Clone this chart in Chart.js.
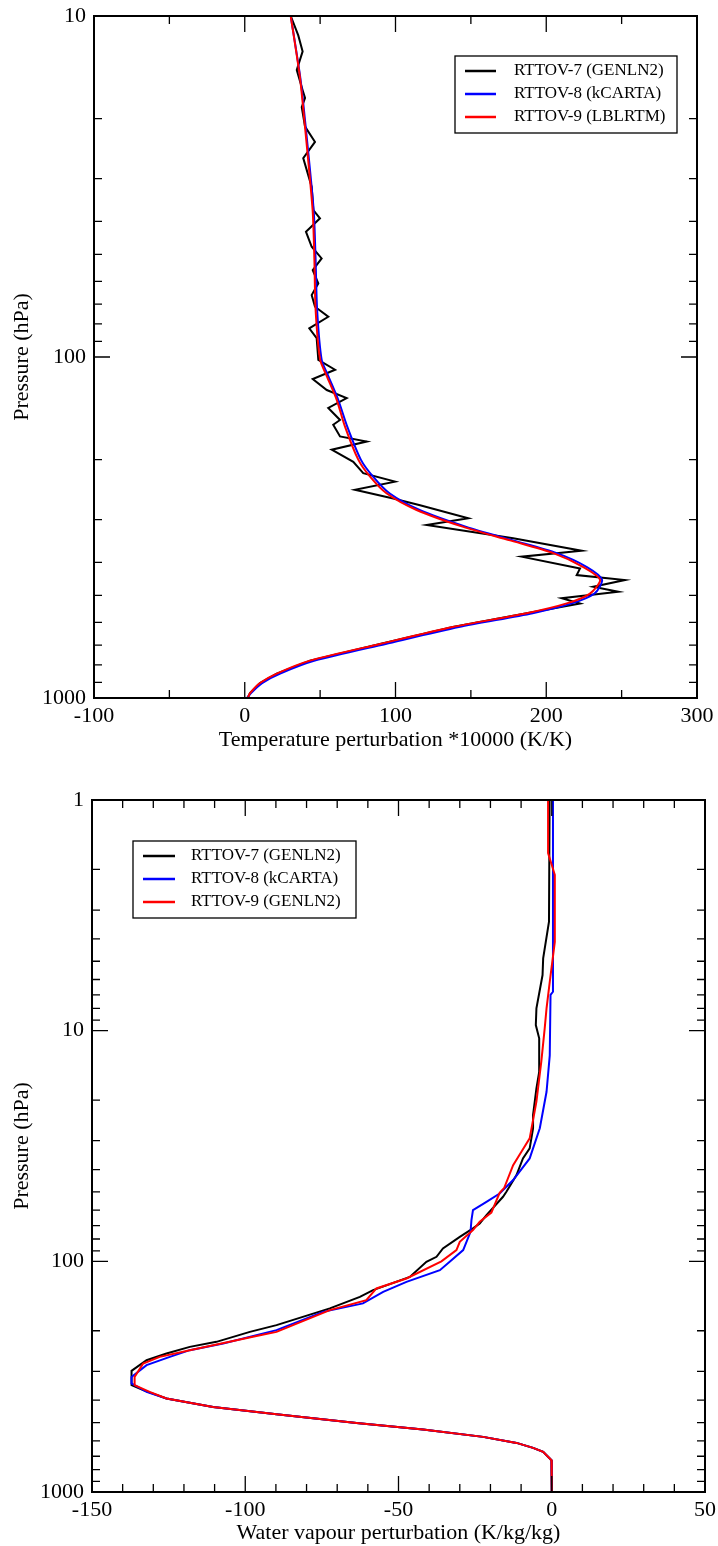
<!DOCTYPE html>
<html>
<head>
<meta charset="utf-8">
<title>RTTOV Jacobians</title>
<script src="https://cdn.jsdelivr.net/npm/chart.js@4.4.1/dist/chart.umd.min.js"></script>
<style>
    html, body { margin: 0; padding: 0; background: #fff; }
    body { width: 718px; height: 1546px; position: relative; overflow: hidden; }
    canvas { position: absolute; left: 0; }
    #temp-chart { top: 0; }
    #wv-chart { top: 760px; }
</style>
</head>
<body>
<canvas id="temp-chart" width="718" height="760"></canvas>
<canvas id="wv-chart" width="718" height="786"></canvas>
<script>
// ---- Temperature jacobian (top panel), pressure in hPa ----
const tempPressure7 = [10, 11.4, 12.7, 14.4, 16.5, 17.4, 18.5, 21.1, 23.4, 26.1, 31.7, 37.1, 39.2, 42.9, 47.5, 51.4, 55.6, 60.8, 65.8, 71.2,
    76.2, 82.4, 88.1, 102, 109, 116, 125, 132, 141, 153, 158, 171, 177, 187, 203, 219, 232, 245, 260, 272,
    297, 311, 340, 370, 385, 417, 436, 451, 472, 488, 510, 528, 564, 619, 694, 777, 848, 904, 968, 1000];
const tempRttov7 = [30.5, 35.5, 38.4, 34.5, 38.4, 40.0, 37.8, 40.0, 46.6, 38.8, 44.4, 45.5, 49.9, 40.6, 44.4, 51.0, 45.1, 48.8, 44.4, 46.6,
    55.4, 42.8, 47.7, 48.8, 59.9, 45.1, 54.4, 67.6, 55.4, 63.2, 58.7, 63.2, 80.9, 57.7, 72.0, 78.6, 99.7, 73.1, 98.5, 116.3,
    148.3, 120.7, 178.1, 223.5, 183.7, 222.4, 220.2, 252.2, 231.2, 247.8, 210.3, 222.4, 187, 138, 89.7, 43.3, 21.2, 10.1, 3.5, 2];
const tempPressure89 = [10, 15.1, 18.9, 37, 51.9, 72.7, 101.8, 114, 133.5, 160, 200, 224, 251, 281, 315, 345, 376, 413, 450, 494,
    528, 564, 619, 694, 777, 848, 904, 968, 1000];
const tempRttov8 = [30.5, 36.8, 39.3, 45.7, 47, 48, 51, 55.5, 62, 68, 77, 85, 96, 116, 147, 178, 207, 227, 237, 232,
    217, 191, 142, 93.5, 46.5, 23.5, 11.5, 4, 1.5];
const tempRttov9 = [30.5, 36.6, 38.9, 45, 46.2, 47, 50, 54.5, 61, 66.5, 75.3, 83, 94, 114, 145, 176, 204.7, 224.6, 235.7, 229,
    213.6, 187, 138, 89.7, 43.3, 21.2, 10.1, 3.5, 2];

// ---- Water vapour jacobian (bottom panel) ----
const wvPressure7 = [1, 3.37, 4.86, 5.74, 8.0, 9.46, 10.8, 15.1, 17.8, 23.2, 26.5, 32.4, 35.8, 42.3, 49.9, 52.5, 63.0, 68.5, 72.0, 78.3,
    87.9, 95.6, 100.5, 116.8, 133.3, 142.6, 160, 189.1, 202.2, 223.4, 234.9, 250.9, 268.3, 298.5, 344.3, 361.9, 393.2];
const wvRttov7 = [-0.7, -0.9, -2.8, -3.0, -5.0, -5.2, -4.1, -4.1, -5.0, -6.1, -6.1, -7.2, -9.4, -11.5, -14.8, -15.9, -21.3, -23.5, -25.7, -30.0,
    -35.5, -37.6, -40.9, -46.3, -58.3, -62.6, -72.4, -89.8, -98.5, -109.4, -118.1, -125.7, -132.2, -137.1, -137.1, -133.3, -125.7];
const wvPressure8 = [1, 6.78, 7.0, 12.8, 18.4, 26.5, 35.8, 44.4, 50.8, 55.2, 60.0, 66.3, 74.5, 89.4, 100.5, 109.2, 122.7, 135.6, 152.2, 165.6,
    198.8, 227.0, 242.7, 259.5, 281.9, 316.9, 338.5, 368.1, 393.2];
const wvRttov8 = [0.4, 0.4, -0.4, -0.65, -1.7, -3.9, -7.2, -12.6, -17.0, -21.3, -25.7, -26.2, -26.5, -28.9, -33.3, -36.5, -47.4, -55.0, -61.6, -74.6,
    -89.8, -107.2, -118.1, -124.6, -132.2, -137.1, -137.1, -132.2, -125.7];
const wvPressure9 = [1, 1.70, 2.11, 4.12, 6.14, 8.0, 9.77, 13.6, 20.3, 29.3, 33.5, 38.3, 48, 50.5, 61.5, 67.4, 73.2, 82.3, 89.4, 100,
    118.7, 131.1, 147.3, 162.8, 202.2, 212.5, 242.7, 259.5, 277.3, 316.9, 344.3, 368.1, 393.2];
const wvRttov9 = [-1.2, -1.2, 1.0, 1.0, -0.65, -1.7, -2.3, -3.4, -5.0, -7.2, -9.9, -12.6, -15.5, -17.0, -19.7, -23.5, -25.7, -30.0, -31.1, -36.0,
    -47.4, -57.2, -60.5, -72.4, -89.8, -97.5, -118.1, -127.9, -133.3, -136.1, -136.1, -131.2, -125.7];
// lower troposphere, where all three models coincide
const wvTailPressure = [427.6, 459.9, 501.7, 535.8, 576.8, 612.5, 644, 670.2, 728, 1000];
const wvTail = [-110.5, -89.8, -63.7, -42.0, -22.4, -11.5, -6.1, -2.8, -0.1, 0];

// labels and axis ticks
const tempLabels = ['RTTOV-7 (GENLN2)', 'RTTOV-8 (kCARTA)', 'RTTOV-9 (LBLRTM)'];
const wvLabels = ['RTTOV-7 (GENLN2)', 'RTTOV-8 (kCARTA)', 'RTTOV-9 (GENLN2)'];
const tempYLabels = [10, 100, 1000];
const wvYLabels = [1, 10, 100, 1000];

const FONT = '"Liberation Serif", "Times New Roman", serif';
const COLORS = ['#000000', '#0000ff', '#ff0000'];

function toPoints(pressures, values) {
    return values.map((v, i) => ({ x: v, y: pressures[i] }));
}

// 1,2,...,9 per decade between the two decades
function logTickValues(min, max) {
    const out = [];
    for (let d = min; d < max; d *= 10) {
        for (let m = 1; m < 10; m++) out.push(d * m);
    }
    out.push(max);
    return out;
}

// Frame box plus inward ticks on all four sides
const frameTicks = {
    id: 'frameTicks',
    afterDatasetsDraw(chart, args, opts) {
        const { ctx, chartArea: a } = chart;
        const xs = chart.scales.x;
        const ys = chart.scales.y;
        ctx.save();
        ctx.strokeStyle = '#000';
        ctx.lineWidth = 1.3;
        ctx.beginPath();
        for (let v = xs.min; v <= xs.max + 1e-9; v += opts.xMinorStep) {
            const px = xs.getPixelForValue(v);
            const len = Math.abs(v % opts.xMajorStep) < 1e-9 ? 16 : 8;
            ctx.moveTo(px, a.bottom); ctx.lineTo(px, a.bottom - len);
            ctx.moveTo(px, a.top); ctx.lineTo(px, a.top + len);
        }
        ys.ticks.forEach(t => {
            const py = ys.getPixelForValue(t.value);
            const len = opts.yMajor.includes(t.value) ? 16 : 8;
            ctx.moveTo(a.left, py); ctx.lineTo(a.left + len, py);
            ctx.moveTo(a.right, py); ctx.lineTo(a.right - len, py);
        });
        ctx.stroke();
        ctx.lineWidth = 2;
        ctx.strokeRect(a.left, a.top, a.right - a.left, a.bottom - a.top);
        ctx.restore();
    }
};

// Boxed legend placed inside the plot
const boxLegend = {
    id: 'boxLegend',
    afterDraw(chart, args, opts) {
        const ctx = chart.ctx;
        ctx.save();
        ctx.fillStyle = '#fff';
        ctx.fillRect(opts.x, opts.y, opts.w, opts.h);
        ctx.strokeStyle = '#000';
        ctx.lineWidth = 1.3;
        ctx.strokeRect(opts.x, opts.y, opts.w, opts.h);
        ctx.font = '17px ' + FONT;
        ctx.textBaseline = 'middle';
        chart.data.datasets.forEach((ds, i) => {
            const y = opts.y + opts.firstRow + i * opts.rowGap;
            ctx.strokeStyle = ds.borderColor;
            ctx.lineWidth = 2.5;
            ctx.beginPath();
            ctx.moveTo(opts.x + opts.lineStart, y);
            ctx.lineTo(opts.x + opts.lineEnd, y);
            ctx.stroke();
            ctx.fillStyle = '#000';
            ctx.fillText(ds.label, opts.x + opts.textX, y);
        });
        ctx.restore();
    }
};

function makeDatasets(labels, series, tension) {
    // draw order: red on top, then blue, then black
    return series.map((pts, i) => ({
        label: labels[i],
        data: pts,
        showLine: true,
        borderColor: COLORS[i],
        backgroundColor: COLORS[i],
        borderWidth: 2,
        pointRadius: 0,
        tension: i === 0 ? 0 : tension,
        order: 3 - i
    }));
}

function makeOptions(cfg) {
    return {
        responsive: false,
        animation: false,
        layout: { padding: cfg.padding },
        plugins: {
            legend: { display: false },
            tooltip: { enabled: false },
            frameTicks: { xMinorStep: cfg.xMinorStep, xMajorStep: cfg.xMajorStep, yMajor: cfg.yLabels },
            boxLegend: cfg.legend
        },
        scales: {
            x: {
                type: 'linear',
                position: 'bottom',
                min: cfg.xMin,
                max: cfg.xMax,
                grid: { display: false, drawTicks: false },
                border: { display: false },
                ticks: {
                    stepSize: cfg.xMajorStep,
                    padding: 5,
                    color: '#000',
                    font: { family: FONT, size: 22 },
                    maxRotation: 0
                },
                title: {
                    display: true,
                    text: cfg.xTitle,
                    color: '#000',
                    font: { family: FONT, size: 22 },
                    padding: { top: 0, bottom: cfg.xTitlePad }
                },
                afterFit: (scale) => {
                    scale.height = cfg.xHeight;
                    scale.paddingLeft = 0;
                    scale.paddingRight = 0;
                }
            },
            y: {
                type: 'logarithmic',
                position: 'left',
                reverse: true,
                min: cfg.yMin,
                max: cfg.yMax,
                grid: { display: false, drawTicks: false },
                border: { display: false },
                afterBuildTicks: (scale) => {
                    scale.ticks = logTickValues(cfg.yMin, cfg.yMax).map(v => ({ value: v }));
                },
                ticks: {
                    autoSkip: false,
                    padding: 8,
                    color: '#000',
                    font: { family: FONT, size: 22 },
                    callback: (v) => cfg.yLabels.includes(v) ? String(v) : ''
                },
                title: {
                    display: true,
                    text: 'Pressure (hPa)',
                    color: '#000',
                    font: { family: FONT, size: 22 },
                    padding: { top: 9, bottom: 0 }
                },
                afterFit: (scale) => {
                    scale.width = cfg.yWidth;
                    scale.paddingTop = 0;
                    scale.paddingBottom = 0;
                }
            }
        }
    };
}

// Top panel
new Chart(document.getElementById('temp-chart'), {
    type: 'scatter',
    data: {
        datasets: makeDatasets(tempLabels, [
            toPoints(tempPressure7, tempRttov7),
            toPoints(tempPressure89, tempRttov8),
            toPoints(tempPressure89, tempRttov9)
        ], 0.25)
    },
    options: makeOptions({
        padding: { top: 16, right: 21, left: 0, bottom: 0 },
        xMin: -100, xMax: 300, xMajorStep: 100, xMinorStep: 50,
        yMin: 10, yMax: 1000, yLabels: tempYLabels,
        xTitle: 'Temperature perturbation *10000 (K/K)',
        xTitlePad: 7, xHeight: 62, yWidth: 94,
        legend: { x: 455, y: 56, w: 222, h: 77, firstRow: 15, rowGap: 23, lineStart: 10, lineEnd: 41, textX: 59 }
    }),
    plugins: [frameTicks, boxLegend]
});

// Bottom panel
new Chart(document.getElementById('wv-chart'), {
    type: 'scatter',
    data: {
        datasets: makeDatasets(wvLabels, [
            toPoints(wvPressure7.concat(wvTailPressure), wvRttov7.concat(wvTail)),
            toPoints(wvPressure8.concat(wvTailPressure), wvRttov8.concat(wvTail)),
            toPoints(wvPressure9.concat(wvTailPressure), wvRttov9.concat(wvTail))
        ], 0)
    },
    options: makeOptions({
        padding: { top: 40, right: 13, left: 0, bottom: 0 },
        xMin: -150, xMax: 50, xMajorStep: 50, xMinorStep: 10,
        yMin: 1, yMax: 1000, yLabels: wvYLabels,
        xTitle: 'Water vapour perturbation (K/kg/kg)',
        xTitlePad: 0, xHeight: 54, yWidth: 92,
        legend: { x: 133, y: 81, w: 223, h: 77, firstRow: 15, rowGap: 23, lineStart: 10, lineEnd: 42, textX: 58 }
    }),
    plugins: [frameTicks, boxLegend]
});
</script>
</body>
</html>
